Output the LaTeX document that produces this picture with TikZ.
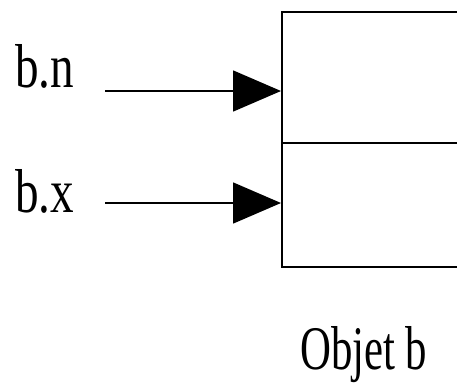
\documentclass[tikz,border=0pt]{standalone}
\usepackage{fontspec}
\setmainfont{Liberation Serif}
\usetikzlibrary{arrows.meta}
\begin{document}
\begin{tikzpicture}[x=1pt,y=-1pt,
  cell/.style={draw,line width=1.6pt,minimum width=200pt,inner sep=0pt,anchor=north west},
  label/.style={inner sep=0pt,anchor=base west,font=\fontsize{62}{62}\selectfont},
  pointer/.style={line width=1.6pt,-{Triangle[length=48pt,width=41pt]}}]
  \useasboundingbox (0,0) rectangle (457,383);
  \clip (0,0) rectangle (457,383);
  % the two fields of object b
  \node[cell,minimum height=131pt] (celln) at (281,11) {};
  \node[cell,minimum height=124pt] (cellx) at (281,142) {};
  % field names
  \node[label] (bn) at (15,87) {\scalebox{0.76}[1]{b.n}};
  \node[label] (bx) at (15,212) {\scalebox{0.76}[1]{b.x}};
  \node[inner sep=0pt,anchor=base west,font=\fontsize{62}{62}\selectfont] (obj) at (300,369) {\scalebox{0.69}[1]{Objet b}};
  % references into the fields
  \coordinate (sn) at (105,91);
  \coordinate (sx) at (105,203);
  \draw[pointer] (sn) -- (sn -| celln.west);
  \draw[pointer] (sx) -- (sx -| cellx.west);
\end{tikzpicture}
\end{document}
